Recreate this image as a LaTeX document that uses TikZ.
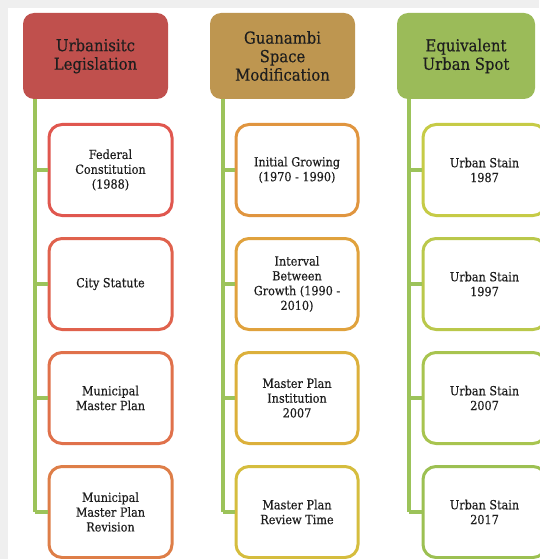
\documentclass[tikz,border=0pt]{standalone}
\usepackage{fontspec}
\setmainfont{Liberation Serif}
\newfontfamily\diagfont[FakeBold=0.35]{DejaVu Serif Condensed}
\definecolor{bggray}{HTML}{EFEFEF}
\definecolor{hred}{HTML}{C0504D}
\definecolor{hgold}{HTML}{BE9650}
\definecolor{hgreen}{HTML}{9BBB59}
\definecolor{lgreen}{HTML}{9CC35A}
\definecolor{txt}{HTML}{1E1E1E}
\definecolor{ra}{HTML}{E0574F}
\definecolor{rb}{HTML}{E0624D}
\definecolor{rc}{HTML}{E0714B}
\definecolor{rd}{HTML}{DE7E48}
\definecolor{oa}{HTML}{E0953F}
\definecolor{ob}{HTML}{E0A23D}
\definecolor{oc}{HTML}{DCB03B}
\definecolor{od}{HTML}{D5BD3E}
\definecolor{ga}{HTML}{C6CB46}
\definecolor{gb}{HTML}{BAC84B}
\definecolor{gc}{HTML}{A8C44F}
\definecolor{gd}{HTML}{9CC052}
\begin{document}
\begin{tikzpicture}[x=1pt,y=-1pt,
  hdr/.style={rounded corners=11pt, minimum height=86pt, inner sep=2pt},
  hdrtext/.style={align=center, text=txt, font=\diagfont\fontsize{16.5}{18.5}\selectfont},
  itembox/.style={draw, line width=3pt, rounded corners=13pt, fill=white,
    minimum width=120pt, minimum height=91pt, inner sep=0pt},
  itemtext/.style={align=center, text=txt, font=\diagfont\fontsize{12.5}{14.8}\selectfont},
  trunk/.style={draw=lgreen, line width=3.5pt},
  branch/.style={draw=lgreen, line width=3.5pt}]
\useasboundingbox (0,0) rectangle (539,559);
\fill[bggray] (0,0) rectangle (539,559);
\fill[white] (8,8) rectangle (539,559);
% headers
\node[hdr, fill=hred, minimum width=145pt] (h1) at (95.5,56) {};
\node[hdr, fill=hgold, minimum width=145pt] (h2) at (282.5,56) {};
\node[hdr, fill=hgreen, minimum width=138pt] (h3) at (466,56) {};
\node[hdrtext] (t1) at (h1.center) {Urbanisitc\\Legislation};
\node[hdrtext] (t2) at (h2.center) {Guanambi\\Space\\Modification};
\node[hdrtext] (t3) at (h3.center) {Equivalent\\Urban Spot};
% trunk coordinates
\coordinate (c1top) at (35,99);  \coordinate (c1bot) at (35,512);
\coordinate (c2top) at (223,99); \coordinate (c2bot) at (223,512);
\coordinate (c3top) at (409,99); \coordinate (c3bot) at (409,512);
\draw[trunk] (c1top) -- (c1bot);
\draw[trunk] (c2top) -- (c2bot);
\draw[trunk] (c3top) -- (c3bot);
% column 1
\node[itembox, draw=ra, minimum width=123pt] (a1) at (110.5,170) {};
\node[itembox, draw=rb, minimum width=123pt] (a2) at (110.5,284) {};
\node[itembox, draw=rc, minimum width=123pt] (a3) at (110.5,398) {};
\node[itembox, draw=rd, minimum width=123pt] (a4) at (110.5,512) {};
% column 2
\node[itembox, draw=oa, minimum width=122pt] (b1) at (297,170) {};
\node[itembox, draw=ob, minimum width=122pt] (b2) at (297,284) {};
\node[itembox, draw=oc, minimum width=122pt] (b3) at (297,398) {};
\node[itembox, draw=od, minimum width=122pt] (b4) at (297,512) {};
% column 3
\node[itembox, draw=ga, minimum width=123pt] (g1) at (484.5,170) {};
\node[itembox, draw=gb, minimum width=123pt] (g2) at (484.5,284) {};
\node[itembox, draw=gc, minimum width=123pt] (g3) at (484.5,398) {};
\node[itembox, draw=gd, minimum width=123pt] (g4) at (484.5,512) {};
% branches
\foreach \n in {1,2,3,4}{
  \draw[branch] (a\n.west) -- (a\n.west -| c1top);
  \draw[branch] (b\n.west) -- (b\n.west -| c2top);
  \draw[branch] (g\n.west) -- (g\n.west -| c3top);
}
% texts
\node[itemtext] (ta1) at (a1.center) {Federal\\Constitution\\(1988)};
\node[itemtext] (ta2) at (a2.center) {City Statute};
\node[itemtext] (ta3) at (a3.center) {Municipal\\Master Plan};
\node[itemtext] (ta4) at (a4.center) {Municipal\\Master Plan\\Revision};
\node[itemtext] (tb1) at (b1.center) {Initial Growing\\(1970 - 1990)};
\node[itemtext] (tb2) at (b2.center) {Interval\\Between\\Growth (1990 -\\2010)};
\node[itemtext] (tb3) at (b3.center) {Master Plan\\Institution\\2007};
\node[itemtext] (tb4) at (b4.center) {Master Plan\\Review Time};
\node[itemtext] (tg1) at (g1.center) {Urban Stain\\1987};
\node[itemtext] (tg2) at (g2.center) {Urban Stain\\1997};
\node[itemtext] (tg3) at (g3.center) {Urban Stain\\2007};
\node[itemtext] (tg4) at (g4.center) {Urban Stain\\2017};
\end{tikzpicture}
\end{document}
